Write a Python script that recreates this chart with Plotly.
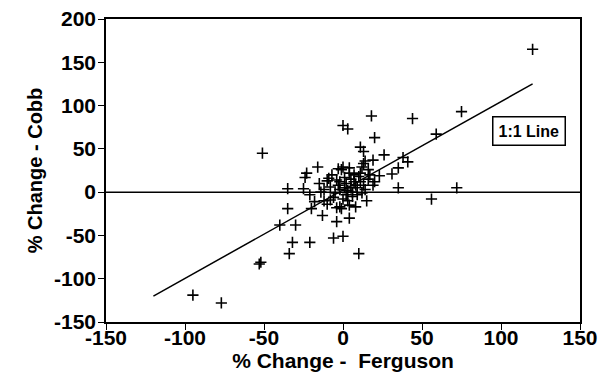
import plotly.graph_objects as go

# Data (x = % change Ferguson, y = % change Cobb)
ferguson = [120, 75, 44, 18, 0, 3, 20, 59, 11, 13, 26, 38, 41, 35, 31, 23, 19, 14, 16, 12,
            20, 19, 35, 72, 56, 11, 9, 12, 15, 8, -1, 4, 4, -2, -4, -6, 0, 10, -13, -10,
            -8, -12, -18, -20, -21, -35, -30, -40, -32, -21, -34, -52, -53, -95, -77, -51,
            -16, -24, -23, -3, 0, 4, -1, 13, -35, -25, -15, -10, -4, -9, -8, -5, 1, 6,
            2, 5, 7, 3, -2, 8, 10, 4, -3, 6, 0, -6, 2, 9, 14, 16, -7, 1, -2, 5, 11, 7,
            13, 3, -4, -14, 17, -12]
cobb = [165, 93, 85, 88, 77, 73, 63, 67, 52, 47, 43, 40, 35, 28, 21, 19, 37, 36, 26, 29,
        12, 8, 5, 5, -8, 12, 5, -1, -10, -17, -19, -30, -15, -17, -34, -53, -51, -71, -27, -14,
        -9, -10, -11, -19, -3, -19, -38, -38, -58, -58, -71, -81, -83, -119, -128, 45,
        29, 17, 22, 27, 29, 28, 26, 33, 4, 4, 10, 13, 14, 16, 6, -1, 5, 0,
        10, 15, 20, 2, 3, 8, 18, 22, 8, -5, -8, -6, -3, -3, 3, 15, 20, 17, 12, 5, 22, 12,
        8, -10, -18, 0, 20, 3]

line_x = [-120, 120]
line_y = [-120, 125]

x_ticks = [-150, -100, -50, 0, 50, 100, 150]
y_ticks = [-150, -100, -50, 0, 50, 100, 150, 200]

FONT = "Liberation Sans, Arial, Helvetica, sans-serif"

def labels(vals):
    return ["%d" % v for v in vals]

fig = go.Figure()
fig.add_trace(go.Scatter(x=line_x, y=line_y, mode="lines",
                         line=dict(color="black", width=1.5), hoverinfo="skip"))
fig.add_trace(go.Scatter(x=ferguson, y=cobb, mode="markers",
                         marker=dict(symbol="cross-thin", size=8,
                                     line=dict(color="black", width=1.6))))

fig.add_annotation(x=118, y=71, text="<b>1:1 Line</b>", showarrow=False,
                   font=dict(family=FONT, size=16, color="black"),
                   bordercolor="black", borderwidth=1.5, borderpad=5, bgcolor="white")

axis_common = dict(showgrid=False, zeroline=False, showline=True, linecolor="black",
                   linewidth=1.5, mirror=True, ticks="outside", ticklen=6,
                   tickcolor="black", tickwidth=1.2, automargin=False,
                   tickfont=dict(family="Liberation Sans", size=21, color="black", weight=700))

fig.update_layout(
    width=600, height=376,
    margin=dict(l=106, r=20, t=19, b=54),
    paper_bgcolor="white", plot_bgcolor="white",
    showlegend=False,
    xaxis=dict(range=[-150, 150], tickvals=x_ticks, ticktext=labels(x_ticks),
               ticklabelstandoff=-10, **axis_common,
               title=dict(text="<b>% Change -  Ferguson</b>", standoff=0,
                          font=dict(family=FONT, size=21, color="black"))),
    yaxis=dict(range=[-150, 200], tickvals=y_ticks, ticktext=labels(y_ticks),
               ticklabelstandoff=-2, **axis_common,
               title=dict(text="<b>% Change - Cobb</b>", standoff=6,
                          font=dict(family=FONT, size=20, color="black"))),
)
fig.add_hline(y=0, line=dict(color="black", width=1.5), opacity=1)

fig.write_html("out.html")
